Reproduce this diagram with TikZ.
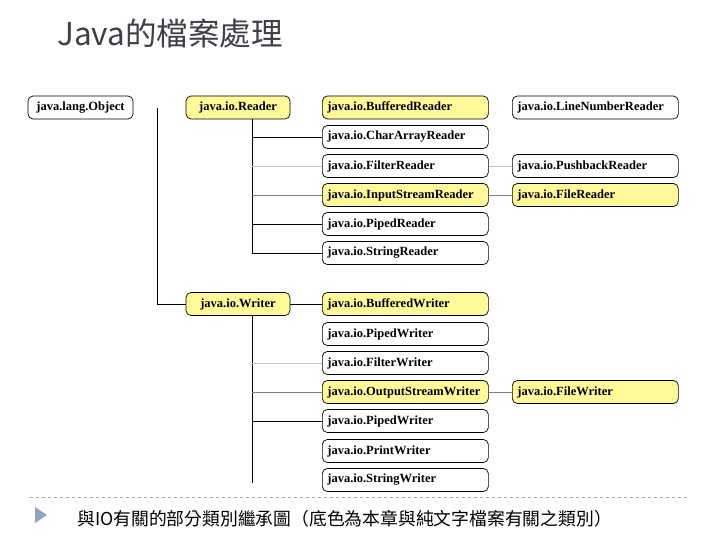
\documentclass[tikz,border=0pt]{standalone}
\usepackage{fontspec}
\setmainfont{Liberation Serif}
\newfontfamily\cjkfont{Noto Sans CJK TC}
\usetikzlibrary{calc}
\definecolor{boxyellow}{HTML}{FFF99A}
\definecolor{titlegray}{HTML}{3F3F48}
\definecolor{lightline}{HTML}{C4C4C4}
\definecolor{midline}{HTML}{808080}
\definecolor{sepgray}{HTML}{A8AEB8}
\definecolor{bullet}{HTML}{8EA4C2}
\begin{document}
\begin{tikzpicture}[x=1pt,y=-1pt,
  cls/.style={draw, rounded corners=5pt, minimum height=23pt, inner xsep=5pt, inner ysep=0pt,
    font=\bfseries\fontsize{12.5}{14}\selectfont, line width=0.7pt},
  colbox/.style={cls, anchor=west, text width=156pt, align=left},
  rootbox/.style={cls, minimum width=105pt},
  yel/.style={fill=boxyellow},
  conn/.style={line width=0.8pt, black},
  lconn/.style={line width=0.8pt, lightline},
  mconn/.style={line width=0.8pt, midline}]
\useasboundingbox[fill=white] (0,0) rectangle (720,540);

% title
\node[anchor=base west, inner sep=0pt, text=titlegray, font=\cjkfont\fontsize{31.5}{35}\selectfont] (title) at (57,46) {Java的檔案處理};

% roots
\node[rootbox] (object) at (80.5,107.5) {java.lang.Object};
\node[rootbox, yel, minimum width=104pt] (reader) at (238,107.5) {java.io.Reader};
\node[rootbox, yel, minimum width=104pt] (writer) at (238,304) {java.io.Writer};

% reader column
\node[colbox, yel] (br)  at (322,107.5) {java.io.BufferedReader};
\node[colbox]      (car) at (322,137) {java.io.CharArrayReader};
\node[colbox]      (fr)  at (322,166) {java.io.FilterReader};
\node[colbox, yel] (isr) at (322,195) {java.io.InputStreamReader};
\node[colbox]      (pr)  at (322,224) {java.io.PipedReader};
\node[colbox]      (sr)  at (322,253) {java.io.StringReader};

\node[colbox]      (lnr) at (512,107.5) {java.io.LineNumberReader};
\node[colbox]      (pbr) at (512,166) {java.io.PushbackReader};
\node[colbox, yel] (filer) at (512,195) {java.io.FileReader};

% writer column
\node[colbox, yel] (bw)  at (322,304) {java.io.BufferedWriter};
\node[colbox]      (pw1) at (322,334) {java.io.PipedWriter};
\node[colbox]      (fw)  at (322,363) {java.io.FilterWriter};
\node[colbox, yel] (osw) at (322,392) {java.io.OutputStreamWriter};
\node[colbox]      (pw2) at (322,421) {java.io.PipedWriter};
\node[colbox]      (prw) at (322,451) {java.io.PrintWriter};
\node[colbox]      (sw)  at (322,480) {java.io.StringWriter};

\node[colbox, yel] (filew) at (512,392) {java.io.FileWriter};

% connectors
\coordinate (otrunk) at (157,108);
\draw[conn] (otrunk) |- (writer.west);

\coordinate (rtrunk) at (252,119);
\draw[conn] (rtrunk) |- (sr.west);
\draw[conn] (rtrunk |- car.west) -- (car.west);
\draw[lconn] (rtrunk |- fr.west) -- (fr.west);
\draw[mconn] (rtrunk |- isr.west) -- (isr.west);
\draw[conn] (rtrunk |- pr.west) -- (pr.west);
\draw[lconn] (fr.east) -- (pbr.west);
\draw[mconn] (isr.east) -- (filer.west);

\draw[conn] (writer.east) -- (bw.west);
\coordinate (wtrunk) at (252,315.5);
\coordinate (wend) at (252,483);
\draw[conn] (wtrunk) -- (wend);
\draw[lconn] (wtrunk |- fw.west) -- (fw.west);
\draw[mconn] (wtrunk |- osw.west) -- (osw.west);
\draw[conn] (wtrunk |- pw2.west) -- (pw2.west);
\draw[mconn] (osw.east) -- (filew.west);

% separator and caption
\coordinate (sepL) at (30,497);
\coordinate (sepR) at (690,497);
\draw[sepgray, dashed, line width=0.6pt] (sepL) -- (sepR);
\fill[bullet] (35,507) -- (35,523) -- (47,515) -- cycle;
\node[anchor=west, inner sep=0pt, font=\cjkfont\fontsize{17.8}{20}\selectfont] (caption) at (77,519)
  {與IO有關的部分類別繼承圖（底色為本章與純文字檔案有關之類別）};
\end{tikzpicture}
\end{document}
